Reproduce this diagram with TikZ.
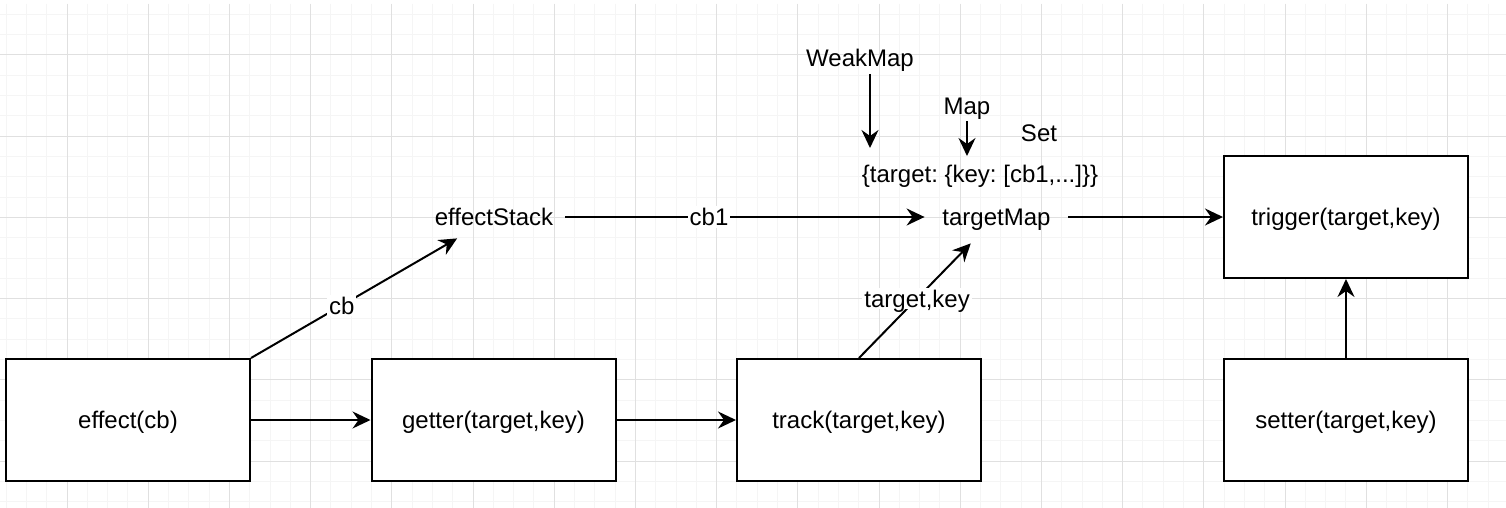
\documentclass[tikz,border=0pt]{standalone}
\usepackage{fontspec}
\setmainfont{Liberation Sans}
\usetikzlibrary{arrows.meta}

\tikzset{
    fnbox/.style={draw,line width=1pt,fill=white,minimum width=122pt,
        minimum height=61pt,text depth=0pt,font=\fontsize{12}{14}\selectfont},
    lbl/.style={text depth=0pt,font=\fontsize{12}{14}\selectfont\frenchspacing},
    edgelbl/.style={lbl,fill=white,inner sep=1pt},
    arr/.style={line width=1pt,-{Stealth[length=9pt,width=8.5pt,inset=3pt]}},
    gridminor/.style={line width=0.5pt,black!4},
    gridmajor/.style={line width=0.5pt,black!12},
}

\begin{document}
\begin{tikzpicture}[x=0.5pt,y=-0.5pt]
    \useasboundingbox (0,0) rectangle (1506,508);
    \fill[white] (0,0) rectangle (1506,508);

    % background grid
    \foreach \k in {0,...,73}
        \draw[gridminor] ({6.1+20.3*\k},4) -- ({6.1+20.3*\k},508);
    \foreach \k in {-2,...,22}
        \draw[gridminor] (0,{55+20.3*\k}) -- (1506,{55+20.3*\k});
    \foreach \k in {0,...,17}
        \draw[gridmajor] ({67+81.2*\k},4) -- ({67+81.2*\k},508);
    \foreach \k in {0,...,5}
        \draw[gridmajor] (0,{55+81.2*\k}) -- (1506,{55+81.2*\k});

    % boxes
    \node[fnbox] (effect) at (128,420) {effect(cb)};
    \node[fnbox] (getter) at (493.5,420) {getter(target,key)};
    \node[fnbox] (track) at (859,420) {track(target,key)};
    \node[fnbox] (trigger) at (1346,217) {trigger(target,key)};
    \node[fnbox] (setter) at (1346,420) {setter(target,key)};

    % plain labels
    \node[lbl,minimum width=71pt,minimum height=21pt] (stack) at (494,217) {effectStack};
    \node[lbl,minimum width=71.5pt,minimum height=26pt] (tmap) at (996.5,217) {targetMap};
    \node[lbl] (weak) at (860,58) {WeakMap};
    \node[lbl] (map) at (967,106) {Map};
    \node[lbl] (set) at (1039,133) {Set};
    \node[lbl] (record) at (980,174) {\{target: \{key: [cb1,...]\}\}};

    \coordinate (weaktip) at (870,148);
    \coordinate (maptip) at (967,156);

    % connectors
    \draw[arr] (effect) -- (getter);
    \draw[arr] (getter) -- (track);
    \draw[arr] (effect.north east) -- (stack) node[edgelbl,pos=0.44] {cb};
    \draw[arr] (stack.east) -- (tmap.west) node[edgelbl,pos=0.4] {cb1};
    \draw[arr] (track.north) -- (tmap) node[edgelbl,pos=0.52] {target,key};
    \draw[arr] (tmap.east) -- (trigger.west);
    \draw[arr] (setter) -- (trigger);
    \draw[arr] (weak.south -| weaktip) -- (weaktip);
    \draw[arr] (map.south) -- (maptip);
\end{tikzpicture}
\end{document}
